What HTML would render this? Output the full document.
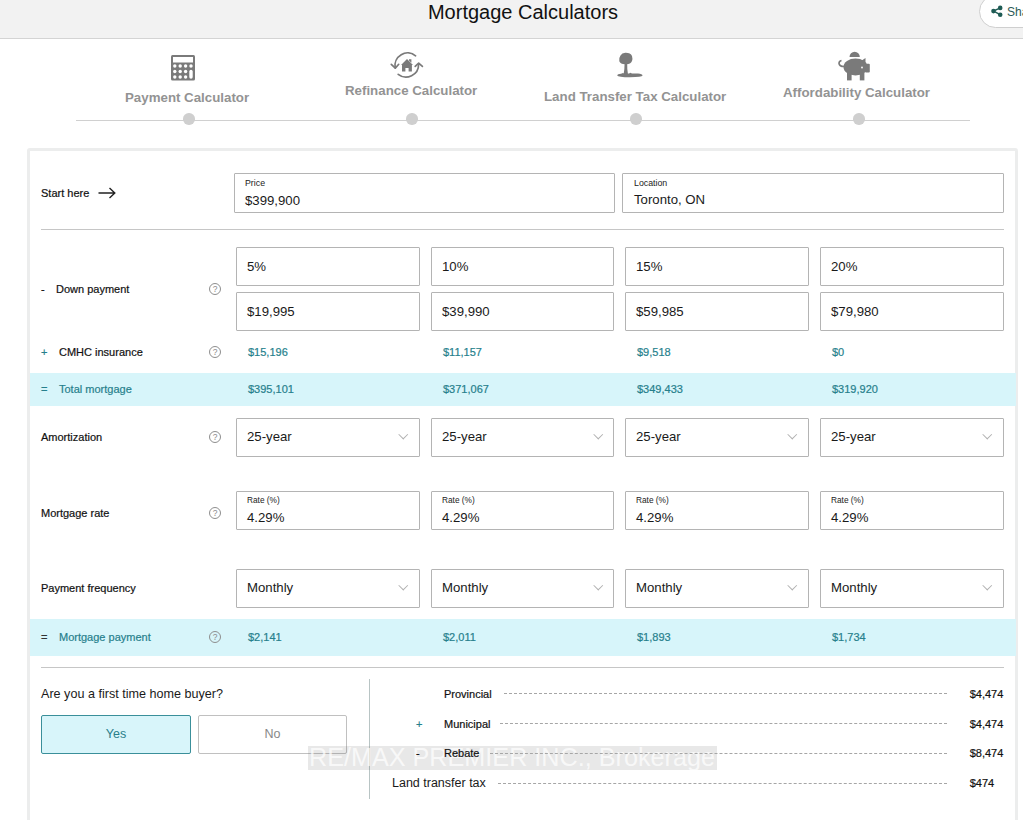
<!DOCTYPE html>
<html><head><meta charset="utf-8">
<style>
*{box-sizing:border-box;margin:0;padding:0}
html,body{width:1023px;height:820px;overflow:hidden;background:#fff;font-family:"Liberation Sans",sans-serif;color:#1a1a1a}
.a{position:absolute;white-space:nowrap}
#hdr{position:absolute;left:0;top:0;width:1023px;height:39px;background:#f2f2f2;border-bottom:1px solid #d4d4d4}
#title{left:0;width:1046px;text-align:center;top:0px;font-size:20px;line-height:24px;color:#111}
#share{left:979px;top:-5px;width:80px;height:33px;border:1px solid #cfcfcf;border-radius:17px;background:#fff}
.tab{font-size:13.3px;font-weight:700;color:#939393;line-height:16px}
#track{left:76px;top:120px;width:894px;height:1px;background:#d0d0d0}
.dot{width:11.5px;height:11.5px;border-radius:50%;background:#cfcfcf;top:113.2px}
#card{left:26.5px;top:148.3px;width:991.5px;height:700px;border:3px solid #eceded;border-radius:3px;background:#fff;box-shadow:0 0 1px rgba(0,0,0,0.03)}
.lbl{font-size:11px;line-height:13px;color:#111;-webkit-text-stroke:0.2px currentColor}
.box{position:absolute;border:1px solid #b4b4b4;border-radius:1px;background:#fff}
.val{font-size:13.2px;line-height:16px;color:#1a1a1a}
.small{font-size:8.8px;line-height:11px;color:#222}
.teal{color:#267f8c}
.band{position:absolute;left:29.5px;width:986px;background:#d7f5fa}
.hr{position:absolute;height:1px;background:#c6c6c6}
.q{position:absolute;width:12px;height:12px;border:1px solid #8e8e8e;border-radius:50%;font-size:8.5px;line-height:10.5px;text-align:center;color:#8a8a8a}
.chev{position:absolute;width:6.5px;height:6.5px;border-right:1px solid #b0b0b0;border-bottom:1px solid #b0b0b0;transform:rotate(45deg)}
.dash{position:absolute;height:0;border-top:1px dashed #a6a6a6}
</style></head><body>
<div id="hdr"></div>
<div class="a" id="title">Mortgage Calculators</div>
<div class="a" id="share"></div>
<svg class="a" style="left:990px;top:5px" width="14" height="13" viewBox="0 0 14 13"><g fill="#1f5c55"><circle cx="10.2" cy="2.9" r="2.3"/><circle cx="3.5" cy="6.1" r="2.3"/><circle cx="10.2" cy="9.7" r="2.3"/><path d="M10.2 2.9L3.5 6.1L10.2 9.7" fill="none" stroke="#1f5c55" stroke-width="1.5"/></g></svg>
<div class="a" style="left:1007px;top:5px;font-size:12px;line-height:14px;color:#2d5a58">Share</div>

<!-- tabs -->
<svg class="a" style="left:171px;top:55px" width="25" height="26" viewBox="0 0 25 26">
<rect x="0" y="0" width="24" height="25.5" rx="1.5" fill="#7a7a7a"/>
<rect x="2" y="2" width="20" height="5.5" fill="#fff"/>
<g fill="#fff"><circle cx="3.8" cy="11" r="1.7"/><circle cx="9.2" cy="11" r="1.7"/><circle cx="14.6" cy="11" r="1.7"/><circle cx="20" cy="11" r="1.7"/>
<circle cx="3.8" cy="16.5" r="1.7"/><circle cx="9.2" cy="16.5" r="1.7"/><circle cx="14.6" cy="16.5" r="1.7"/>
<circle cx="3.8" cy="22" r="1.7"/><circle cx="9.2" cy="22" r="1.7"/><circle cx="14.6" cy="22" r="1.7"/>
<rect x="18.3" y="14.8" width="3.4" height="9" rx="1.7"/></g></svg>
<div class="a tab" style="left:125px;top:90px">Payment Calculator</div>

<svg class="a" style="left:385px;top:45px" width="50" height="40" viewBox="0 0 50 40">
<g fill="none" stroke="#7a7a7a" stroke-width="1.7" stroke-linecap="round" stroke-linejoin="round">
<path d="M10.2 22.8 A12.6 12.6 0 0 1 30.6 10.8"/>
<path d="M13.2 29.3 A12.6 12.6 0 0 0 33.6 19.2"/>
<path d="M6.3 19.3 L10.3 23.2 L13.7 19.3"/>
<path d="M30.2 21.4 L33.7 18.1 L37.4 21.4"/>
</g>
<path d="M22 14 L28 19.9 H26.9 V26.6 H23.6 V23 H20.4 V26.6 H17 V19.9 H16 Z M24 14.2 H26.4 V17.8 L24 15.6Z" fill="#7a7a7a"/>
</svg>
<div class="a tab" style="left:345px;top:83px">Refinance Calculator</div>

<svg class="a" style="left:616px;top:52px" width="28" height="27" viewBox="0 0 28 27">
<g fill="#7a7a7a"><path d="M4.5 3.5 Q6 0.6 9.8 0.8 Q14.5 0.8 16 4 Q16.8 6.5 16 9 Q14.5 12.3 10.5 12.3 L9 12.3 Q4.5 12.2 3.3 9.2 Q2.6 6.2 4.5 3.5Z"/><path d="M8.6 11 H11.2 Q11 17 12 22.5 H7.6 Q8.6 17 8.6 11Z"/><path d="M1.2 23.5 Q1.5 22 5 21.8 L7 21 L8.5 21.8 L13 21.6 L14.5 20.8 L16 21.6 L22 21.5 Q26.3 22 26.6 23.5 Q26 25 14 25.3 Q2 25.2 1.2 23.5Z"/></g></svg>
<div class="a tab" style="left:544px;top:89px">Land Transfer Tax Calculator</div>

<svg class="a" style="left:837px;top:51px" width="34" height="31" viewBox="0 0 34 31">
<g fill="#7a7a7a">
<path d="M12.5 6 A5 5 0 0 1 22.8 6 Z"/>
<ellipse cx="18.5" cy="16" rx="12" ry="8.5"/>
<rect x="10" y="20" width="4.6" height="9.4"/><rect x="22.8" y="20" width="4.6" height="9.4"/>
<path d="M24 10 L28.5 7 L28.5 13Z"/>
<rect x="28" y="12.8" width="4.8" height="8.8" rx="1"/>
</g>
<path d="M7 15.5 Q2.5 15.5 2 12.5 Q2 10 4.5 9.5" fill="none" stroke="#7a7a7a" stroke-width="1.6"/>
<circle cx="25" cy="16.5" r="0.9" fill="#fff"/>
</svg>
<div class="a tab" style="left:783px;top:85px">Affordability Calculator</div>

<div class="a" id="track"></div>
<div class="a dot" style="left:183px"></div>
<div class="a dot" style="left:406px"></div>
<div class="a dot" style="left:630px"></div>
<div class="a dot" style="left:853px"></div>

<div class="a" id="card"></div>

<!-- Start here -->
<div class="a lbl" style="left:41px;top:187px">Start here</div>
<svg class="a" style="left:98px;top:187px" width="18" height="12" viewBox="0 0 18 12"><path d="M0.5 6H16.5M11.5 1L16.8 6L11.5 11" fill="none" stroke="#222" stroke-width="1.4"/></svg>
<div class="box" style="left:234px;top:173px;width:381px;height:40px"></div>
<div class="a small" style="left:245px;top:177.5px">Price</div>
<div class="a val" style="left:245px;top:193px">$399,900</div>
<div class="box" style="left:622px;top:173px;width:382px;height:40px"></div>
<div class="a small" style="left:634px;top:177.5px">Location</div>
<div class="a val" style="left:634px;top:192px">Toronto, ON</div>

<div class="hr" style="left:41px;top:229px;width:963px"></div>

<!-- down payment -->
<div class="a lbl" style="left:41px;top:283px">-</div>
<div class="a lbl" style="left:56px;top:283px">Down payment</div>
<div class="q" style="left:209px;top:283px">?</div>
<div class="box" style="left:236px;top:247px;width:184px;height:39px"></div>
<div class="box" style="left:431px;top:247px;width:183px;height:39px"></div>
<div class="box" style="left:625px;top:247px;width:184px;height:39px"></div>
<div class="box" style="left:820px;top:247px;width:184px;height:39px"></div>
<div class="a val" style="left:247px;top:259px">5%</div>
<div class="a val" style="left:442px;top:259px">10%</div>
<div class="a val" style="left:636px;top:259px">15%</div>
<div class="a val" style="left:831px;top:259px">20%</div>
<div class="box" style="left:236px;top:292px;width:184px;height:39px"></div>
<div class="box" style="left:431px;top:292px;width:183px;height:39px"></div>
<div class="box" style="left:625px;top:292px;width:184px;height:39px"></div>
<div class="box" style="left:820px;top:292px;width:184px;height:39px"></div>
<div class="a val" style="left:247px;top:304px">$19,995</div>
<div class="a val" style="left:442px;top:304px">$39,990</div>
<div class="a val" style="left:636px;top:304px">$59,985</div>
<div class="a val" style="left:831px;top:304px">$79,980</div>

<!-- CMHC -->
<div class="a lbl teal" style="left:41px;top:346px">+</div>
<div class="a lbl" style="left:59px;top:346px">CMHC insurance</div>
<div class="q" style="left:209px;top:346px">?</div>
<div class="a lbl teal" style="left:248px;top:346px">$15,196</div>
<div class="a lbl teal" style="left:443px;top:346px">$11,157</div>
<div class="a lbl teal" style="left:637px;top:346px">$9,518</div>
<div class="a lbl teal" style="left:832px;top:346px">$0</div>

<div class="band" style="top:373.4px;height:32.8px"></div>
<div class="a lbl teal" style="left:41px;top:383px">=</div>
<div class="a lbl teal" style="left:59px;top:383px">Total mortgage</div>
<div class="a lbl teal" style="left:248px;top:383px">$395,101</div>
<div class="a lbl teal" style="left:443px;top:383px">$371,067</div>
<div class="a lbl teal" style="left:637px;top:383px">$349,433</div>
<div class="a lbl teal" style="left:832px;top:383px">$319,920</div>

<!-- amortization -->
<div class="a lbl" style="left:41px;top:431px">Amortization</div>
<div class="q" style="left:209px;top:431px">?</div>
<div class="box" style="left:236px;top:418px;width:184px;height:39px"></div>
<div class="box" style="left:431px;top:418px;width:183px;height:39px"></div>
<div class="box" style="left:625px;top:418px;width:184px;height:39px"></div>
<div class="box" style="left:820px;top:418px;width:184px;height:39px"></div>
<div class="a val" style="left:247px;top:429px">25-year</div>
<div class="a val" style="left:442px;top:429px">25-year</div>
<div class="a val" style="left:636px;top:429px">25-year</div>
<div class="a val" style="left:831px;top:429px">25-year</div>
<div class="chev" style="left:399.5px;top:430.5px"></div>
<div class="chev" style="left:594.5px;top:430.5px"></div>
<div class="chev" style="left:788.5px;top:430.5px"></div>
<div class="chev" style="left:983.5px;top:430.5px"></div>

<!-- rate -->
<div class="a lbl" style="left:41px;top:507px">Mortgage rate</div>
<div class="q" style="left:209px;top:507px">?</div>
<div class="box" style="left:236px;top:491px;width:184px;height:39px"></div>
<div class="box" style="left:431px;top:491px;width:183px;height:39px"></div>
<div class="box" style="left:625px;top:491px;width:184px;height:39px"></div>
<div class="box" style="left:820px;top:491px;width:184px;height:39px"></div>
<div class="a small" style="left:247px;top:495px;font-size:8.3px">Rate (%)</div>
<div class="a small" style="left:442px;top:495px;font-size:8.3px">Rate (%)</div>
<div class="a small" style="left:636px;top:495px;font-size:8.3px">Rate (%)</div>
<div class="a small" style="left:831px;top:495px;font-size:8.3px">Rate (%)</div>
<div class="a val" style="left:247px;top:510px">4.29%</div>
<div class="a val" style="left:442px;top:510px">4.29%</div>
<div class="a val" style="left:636px;top:510px">4.29%</div>
<div class="a val" style="left:831px;top:510px">4.29%</div>

<!-- frequency -->
<div class="a lbl" style="left:41px;top:582px">Payment frequency</div>
<div class="box" style="left:236px;top:569px;width:184px;height:39px"></div>
<div class="box" style="left:431px;top:569px;width:183px;height:39px"></div>
<div class="box" style="left:625px;top:569px;width:184px;height:39px"></div>
<div class="box" style="left:820px;top:569px;width:184px;height:39px"></div>
<div class="a val" style="left:247px;top:580px">Monthly</div>
<div class="a val" style="left:442px;top:580px">Monthly</div>
<div class="a val" style="left:636px;top:580px">Monthly</div>
<div class="a val" style="left:831px;top:580px">Monthly</div>
<div class="chev" style="left:399.5px;top:581.5px"></div>
<div class="chev" style="left:594.5px;top:581.5px"></div>
<div class="chev" style="left:788.5px;top:581.5px"></div>
<div class="chev" style="left:983.5px;top:581.5px"></div>

<div class="band" style="top:619px;height:37px"></div>
<div class="a lbl" style="left:41px;top:631px;color:#333">=</div>
<div class="a lbl teal" style="left:59px;top:631px">Mortgage payment</div>
<div class="q" style="left:209px;top:631px">?</div>
<div class="a lbl teal" style="left:248px;top:631px">$2,141</div>
<div class="a lbl teal" style="left:443px;top:631px">$2,011</div>
<div class="a lbl teal" style="left:637px;top:631px">$1,893</div>
<div class="a lbl teal" style="left:832px;top:631px">$1,734</div>

<div class="hr" style="left:41px;top:667px;width:963px"></div>

<!-- bottom -->
<div class="a" style="left:41px;top:687px;font-size:12.6px;line-height:15px">Are you a first time home buyer?</div>
<div class="a" style="left:41px;top:715px;width:150px;height:39px;border:1px solid #3a8f9a;border-radius:2px;background:#d8f5fa;font-size:12.5px;line-height:37px;text-align:center;color:#2a7f8a">Yes</div>
<div class="a" style="left:198px;top:715px;width:149px;height:39px;border:1px solid #c0c0c0;border-radius:2px;background:#fff;font-size:12.5px;line-height:37px;text-align:center;color:#888">No</div>
<div class="a" style="left:369px;top:679px;width:1px;height:120px;background:#b8c4c4"></div>

<div class="a lbl" style="left:444px;top:688px">Provincial</div>
<div class="dash" style="left:504px;top:693px;width:443px"></div>
<div class="a lbl" style="left:969.7px;top:688px">$4,474</div>
<div class="a lbl teal" style="left:416px;top:718px">+</div>
<div class="a lbl" style="left:444px;top:718px">Municipal</div>
<div class="dash" style="left:500px;top:723px;width:447px"></div>
<div class="a lbl" style="left:969.7px;top:718px">$4,474</div>
<div class="a" style="left:308px;top:746px;width:409px;height:24px;background:rgba(90,90,90,0.14)"></div>
<div class="a" style="left:309px;top:742px;font-size:25.2px;line-height:30px;color:rgba(255,255,255,0.72)">RE/MAX PREMIER INC., Brokerage</div>
<div class="a lbl" style="left:416px;top:747px">-</div>
<div class="a lbl" style="left:444px;top:747px">Rebate</div>
<div class="dash" style="left:490px;top:753px;width:457px"></div>
<div class="a lbl" style="left:969.7px;top:747px">$8,474</div>
<div class="a" style="left:392px;top:776px;font-size:12.5px;line-height:15px">Land transfer tax</div>
<div class="dash" style="left:498px;top:783px;width:449px"></div>
<div class="a lbl" style="left:969.7px;top:777px">$474</div>

</body></html>
